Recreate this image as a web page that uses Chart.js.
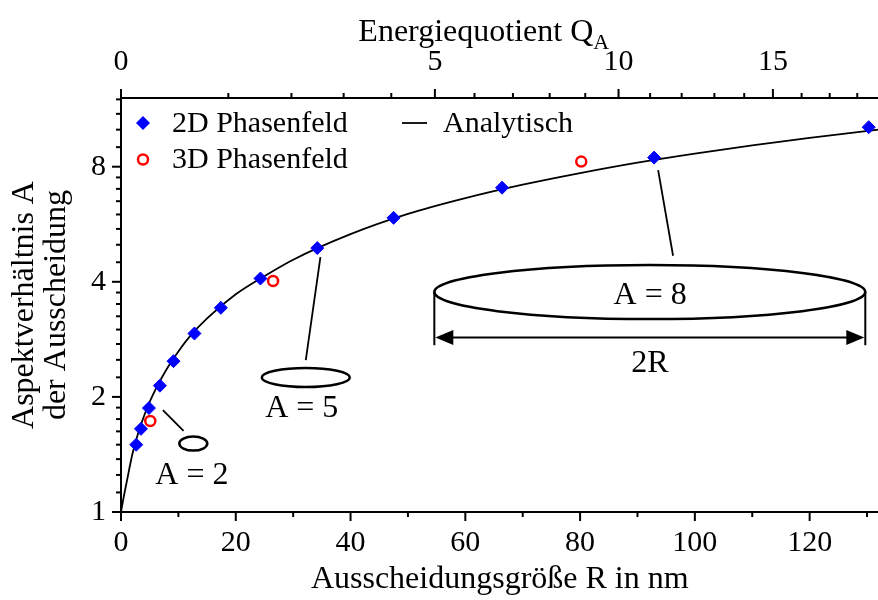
<!DOCTYPE html>
<html>
<head>
<meta charset="utf-8">
<script src="https://cdn.jsdelivr.net/npm/chart.js@4.4.0/dist/chart.umd.min.js"></script>
<style>
  body { margin: 0; background: #fff; overflow: hidden; }
</style>
</head>
<body>
<!-- Chart.js haelt rechts ~7.5px frei; die Leinwand ist breiter, das Fenster schneidet bei 878 ab -->
<canvas id="grafico" width="886" height="600"></canvas>
<script>
// ---- DATEN ----
// 2D Phasenfeld (blaue Rauten)
const r2D = [2.66, 3.48, 4.87, 6.78, 9.15, 12.8, 17.4, 24.3, 34.2, 47.5, 66.4, 92.9, 130.3]
const a2D = [1.50, 1.65, 1.87, 2.14, 2.48, 2.93, 3.42, 4.08, 4.90, 5.88, 7.05, 8.45, 10.15]
// 3D Phasenfeld (rote Kreise)
const r3D = [5.1, 26.5, 80.2]
const a3D = [1.73, 4.02, 8.25]
// analytische Kurve
const rKurve = [0, 0.5, 1, 2, 3, 4, 5, 6, 8, 10, 12, 15, 20, 25, 30, 40, 50, 60, 70, 80, 90, 100, 110, 120, 132]
const aKurve = [1.0, 1.1, 1.2, 1.42, 1.61, 1.78, 1.94, 2.09, 2.37, 2.63, 2.88, 3.21, 3.71, 4.14, 4.57, 5.33, 6.02, 6.62, 7.18, 7.70, 8.20, 8.66, 9.10, 9.52, 10.0]

// ---- ACHSEN / TICKS ----
const xMajor = [0, 20, 40, 60, 80, 100, 120]
const xMinor = [10, 30, 50, 70, 90, 110, 130]
const yMajor = [1, 2, 4, 8]
const yMinor = [1.125, 1.25, 1.375, 1.5, 1.625, 1.75, 1.875, 2.25, 2.5, 2.75, 3, 3.25, 3.5, 3.75, 4.5, 5, 5.5, 6, 6.5, 7, 7.5, 9, 10, 11, 12]
const qLabels = ['0', '5', '10', '15']
const qMajorR = [0, 54.7, 86.7, 113.6]
const qMinorR = [18.7, 29.7, 38.8, 47.1, 61.6, 68.3, 74.7, 80.9, 92.2, 97.7, 103.4, 108.6, 118.6, 123.5, 128.3]

const serif = "'Liberation Serif', 'Times New Roman', serif"

// ---- ANMERKUNGEN (Ellipsen, Hinweislinien) in Datenkoordinaten ----
const hinweise = [
  { linie: [[7.3, 1.846], [10.9, 1.63]], ellipse: { r: 12.6, a: 1.51, rx: 14, ry: 7 }, text: 'A = 2', tr: 12.35, ta: 1.247 },
  { linie: [[34.75, 4.64], [32.2, 2.495]], ellipse: { r: 32.2, a: 2.248, rx: 44, ry: 9.5 }, text: 'A = 5', tr: 31.5, ta: 1.865 },
  { linie: [[93.6, 7.84], [96.2, 4.68]], text: 'A = 8', tr: 92.2, ta: 3.68 }
]
// grosse Ellipse mit 2R-Pfeil
const grossLinks = 54.6, grossRechts = 129.7, grossA = 3.76, pfeilA = 2.86, stegA = 2.73, textRA = 2.45

const zeichnenPlugin = {
  id: 'zeichnen',
  afterDraw(chart) {
    const { ctx, chartArea: ca, scales } = chart
    const px = v => scales.x.getPixelForValue(v)
    const py = v => scales.y.getPixelForValue(v)
    const strich = (x1, y1, x2, y2) => { ctx.beginPath(); ctx.moveTo(x1, y1); ctx.lineTo(x2, y2); ctx.stroke() }
    ctx.save()
    ctx.strokeStyle = '#000'
    ctx.fillStyle = '#000'
    ctx.lineWidth = 2

    // tick marks
    xMajor.forEach(v => strich(px(v), ca.bottom, px(v), ca.bottom + 9))
    xMinor.forEach(v => strich(px(v), ca.bottom, px(v), ca.bottom + 5))
    yMajor.forEach(v => strich(ca.left - 9, py(v), ca.left, py(v)))
    yMinor.forEach(v => strich(ca.left - 5, py(v), ca.left, py(v)))
    qMajorR.forEach(v => strich(px(v), ca.top, px(v), ca.top - 9))
    qMinorR.forEach(v => strich(px(v), ca.top, px(v), ca.top - 5))

    // Titel oben mit Index
    ctx.textBaseline = 'alphabetic'
    ctx.textAlign = 'left'
    const haupt = 'Energiequotient Q'
    ctx.font = `32px ${serif}`
    const w1 = ctx.measureText(haupt).width
    ctx.font = `22px ${serif}`
    const w2 = ctx.measureText('A').width
    const x0 = (ca.left + ca.right) / 2 - 16 - (w1 + w2) / 2
    ctx.font = `32px ${serif}`
    ctx.fillText(haupt, x0, 41)
    ctx.font = `22px ${serif}`
    ctx.fillText('A', x0 + w1, 49)

    // Legende
    const ds = chart.data.datasets
    ctx.font = `30px ${serif}`
    ctx.textBaseline = 'middle'
    const lx = ca.left + 22
    // Raute
    ctx.fillStyle = ds[0].backgroundColor
    ctx.beginPath()
    ctx.moveTo(lx - 7, 123); ctx.lineTo(lx, 116); ctx.lineTo(lx + 7, 123); ctx.lineTo(lx, 130)
    ctx.closePath(); ctx.fill()
    // Kreis
    ctx.strokeStyle = ds[1].borderColor
    ctx.lineWidth = ds[1].borderWidth
    ctx.beginPath(); ctx.arc(lx, 159.5, 5, 0, Math.PI * 2); ctx.stroke()
    // Linie
    ctx.strokeStyle = ds[2].borderColor
    ctx.lineWidth = ds[2].borderWidth
    strich(ca.left + 281, 123, ca.left + 306, 123)
    ctx.fillStyle = '#000'
    ctx.fillText(ds[0].label, ca.left + 51, 124)
    ctx.fillText(ds[1].label, ca.left + 51, 160)
    ctx.fillText(ds[2].label, ca.left + 322, 124)

    // Hinweise
    ctx.font = `32px ${serif}`
    ctx.textAlign = 'center'
    hinweise.forEach(h => {
      ctx.lineWidth = 1.8
      strich(px(h.linie[0][0]), py(h.linie[0][1]), px(h.linie[1][0]), py(h.linie[1][1]))
      if (h.ellipse) {
        ctx.lineWidth = 2.5
        ctx.beginPath()
        ctx.ellipse(px(h.ellipse.r), py(h.ellipse.a), h.ellipse.rx, h.ellipse.ry, 0, 0, Math.PI * 2)
        ctx.stroke()
      }
      ctx.fillText(h.text, px(h.tr), py(h.ta))
    })

    // grosse Ellipse + 2R
    const xl = px(grossLinks), xr = px(grossRechts), yc = py(grossA)
    ctx.lineWidth = 2.5
    ctx.beginPath()
    ctx.ellipse((xl + xr) / 2, yc, (xr - xl) / 2, 27, 0, 0, Math.PI * 2)
    ctx.stroke()
    ctx.lineWidth = 2
    strich(xl, yc, xl, py(stegA))
    strich(xr, yc, xr, py(stegA))
    const ya = py(pfeilA)
    strich(xl + 10, ya, xr - 10, ya)
    ctx.beginPath(); ctx.moveTo(xl + 1, ya); ctx.lineTo(xl + 19, ya - 7.5); ctx.lineTo(xl + 19, ya + 7.5); ctx.closePath(); ctx.fill()
    ctx.beginPath(); ctx.moveTo(xr - 1, ya); ctx.lineTo(xr - 19, ya - 7.5); ctx.lineTo(xr - 19, ya + 7.5); ctx.closePath(); ctx.fill()
    ctx.fillText('2R', (xl + xr) / 2, py(textRA))

    ctx.restore()
  }
}

const tickFont = { family: serif, size: 30, lineHeight: 1 }
const titleFont = { family: serif, size: 32, lineHeight: 1 }
const achsenLinie = { display: true, color: '#000', width: 2 }

new Chart(document.querySelector('#grafico'), {
  type: 'scatter',
  data: {
    datasets: [
      {
        label: '2D Phasenfeld',
        data: r2D.map((r, i) => ({ x: r, y: a2D[i] })),
        pointStyle: 'rectRot', pointRadius: 6.5, borderWidth: 1,
        backgroundColor: '#0000ff', borderColor: '#0000ff'
      },
      {
        label: '3D Phasenfeld',
        data: r3D.map((r, i) => ({ x: r, y: a3D[i] })),
        pointStyle: 'circle', pointRadius: 5, borderWidth: 2.5,
        backgroundColor: 'rgba(255,255,255,0)', borderColor: '#ff0000'
      },
      {
        label: 'Analytisch',
        data: rKurve.map((r, i) => ({ x: r, y: aKurve[i] })),
        showLine: true, pointRadius: 0, borderWidth: 1.8,
        borderColor: '#000', backgroundColor: '#000',
        cubicInterpolationMode: 'monotone'
      }
    ]
  },
  options: {
    responsive: false,
    animation: false,
    layout: { padding: 0 },
    plugins: { legend: { display: false }, tooltip: { enabled: false } },
    scales: {
      x: {
        type: 'linear', position: 'bottom', min: 0, max: 132,
        afterBuildTicks: s => { s.ticks = xMajor.map(v => ({ value: v })) },
        afterFit: s => { s.height = 88 },
        grid: { display: false, drawTicks: false },
        border: achsenLinie,
        ticks: { font: tickFont, color: '#000', padding: 16, maxRotation: 0, autoSkip: false },
        title: { display: true, text: 'Ausscheidungsgröße R in nm', font: titleFont, color: '#000', padding: { top: 0, bottom: 4 } }
      },
      x2: {
        type: 'linear', position: 'top', min: 0, max: 132,
        afterBuildTicks: s => { s.ticks = qMajorR.map(v => ({ value: v })) },
        afterFit: s => { s.height = 98 },
        grid: { display: false, drawTicks: false },
        border: achsenLinie,
        ticks: { font: tickFont, color: '#000', padding: 21, maxRotation: 0, autoSkip: false, callback: (v, i) => qLabels[i] }
      },
      y: {
        type: 'logarithmic', position: 'left', min: 1, max: 12.1,
        afterBuildTicks: s => { s.ticks = yMajor.map(v => ({ value: v })) },
        afterFit: s => { s.width = 121 },
        grid: { display: false, drawTicks: false },
        border: achsenLinie,
        ticks: { font: tickFont, color: '#000', padding: 15, autoSkip: false, callback: v => String(v) },
        title: { display: true, text: ['Aspektverhältnis A', 'der Ausscheidung'], font: titleFont, color: '#000', padding: { top: 9, bottom: 0 } }
      }
    }
  },
  plugins: [zeichnenPlugin]
})
</script>
</body>
</html>
